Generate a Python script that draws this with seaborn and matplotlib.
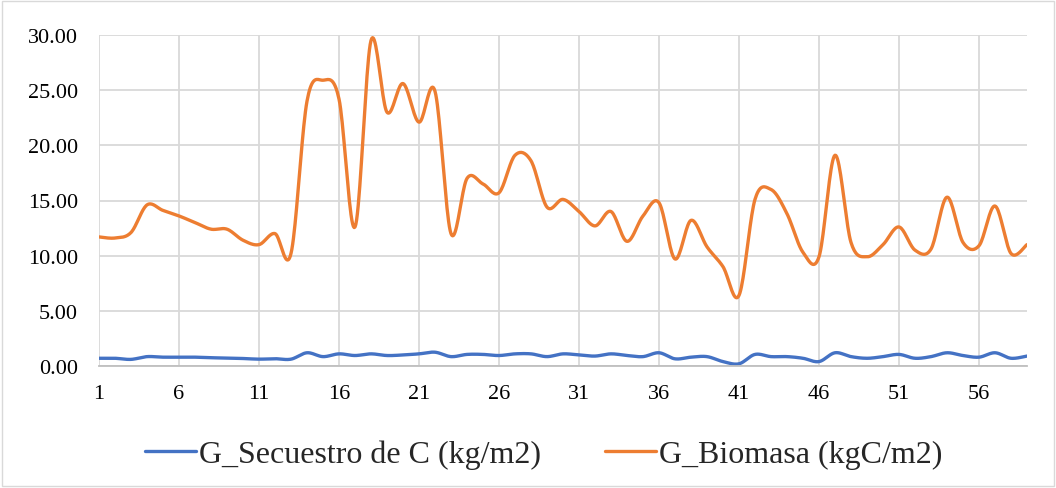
import numpy as np
import pandas as pd
import matplotlib
matplotlib.use("Agg")
import matplotlib.pyplot as plt
import seaborn as sns
from matplotlib.patches import Rectangle

# ---- data ----
periods = list(range(1, 60))
secuestro = [0.70, 0.70, 0.60, 0.85, 0.80, 0.80, 0.80, 0.75, 0.72, 0.68,
             0.62, 0.66, 0.62, 1.20, 0.85, 1.10, 0.95, 1.10, 0.95, 1.00,
             1.10, 1.25, 0.85, 1.05, 1.05, 0.95, 1.10, 1.10, 0.85, 1.10,
             1.00, 0.90, 1.10, 0.95, 0.85, 1.20, 0.65, 0.80, 0.85, 0.40,
             0.20, 1.05, 0.85, 0.85, 0.70, 0.40, 1.20, 0.85, 0.70, 0.85,
             1.05, 0.70, 0.85, 1.20, 0.95, 0.80, 1.20, 0.70, 0.90]
biomasa = [11.7, 11.6, 12.1, 14.6, 14.1, 13.6, 13.0, 12.4, 12.4, 11.4,
           11.0, 12.0, 10.2, 24.0, 25.9, 24.2, 12.6, 29.5, 23.0, 25.6,
           22.1, 24.9, 12.0, 17.0, 16.5, 15.7, 19.1, 18.6, 14.4, 15.1,
           14.0, 12.7, 14.0, 11.3, 13.6, 14.8, 9.7, 13.2, 10.8, 9.0,
           6.4, 15.1, 16.0, 13.8, 10.3, 9.9, 19.1, 11.2, 9.9, 11.0,
           12.6, 10.5, 10.6, 15.3, 11.2, 10.9, 14.5, 10.2, 11.0]
series_names = ["G_Secuestro de C (kg/m2)", "G_Biomasa (kgC/m2)"]
series_colors = ["#4472C4", "#ED7D31"]
x_ticks = list(range(1, 60, 5))
y_ticks = [0, 5, 10, 15, 20, 25, 30]


def smooth(x, y, n=20, k=1 / 6.0):
    """Bezier smoothing (visual only, like Excel's smoothed line)."""
    x = np.asarray(x, float)
    y = np.asarray(y, float)
    px = np.concatenate([[x[0]], x, [x[-1]]])
    py = np.concatenate([[y[0]], y, [y[-1]]])
    xs, ys = [], []
    t = np.linspace(0, 1, n, endpoint=False)
    for i in range(1, len(px) - 2):
        p0, p1, p2, p3 = py[i - 1], py[i], py[i + 1], py[i + 2]
        q0, q1, q2, q3 = px[i - 1], px[i], px[i + 1], px[i + 2]
        c1y = p1 + (p2 - p0) * k
        c2y = p2 - (p3 - p1) * k
        c1x = q1 + (q2 - q0) * k
        c2x = q2 - (q3 - q1) * k
        bx = (1 - t) ** 3 * q1 + 3 * (1 - t) ** 2 * t * c1x + 3 * (1 - t) * t ** 2 * c2x + t ** 3 * q2
        by = (1 - t) ** 3 * p1 + 3 * (1 - t) ** 2 * t * c1y + 3 * (1 - t) * t ** 2 * c2y + t ** 3 * p2
        xs.extend(bx)
        ys.extend(by)
    xs.append(x[-1])
    ys.append(y[-1])
    return np.array(xs), np.array(ys)


frames = []
for name, vals in zip(series_names, [secuestro, biomasa]):
    sx, sy = smooth(periods, vals)
    frames.append(pd.DataFrame({"x": sx, "y": sy, "serie": name}))
df = pd.concat(frames, ignore_index=True)

sns.set_theme(style="white")
plt.rcParams["font.family"] = ["Liberation Serif", "DejaVu Serif"]

fig = plt.figure(figsize=(10.56, 4.89), dpi=100)
ax = fig.add_axes([99 / 1056, 1 - 367 / 489, (1027 - 99) / 1056, (367 - 36) / 489])

sns.lineplot(data=df, x="x", y="y", hue="serie", palette=series_colors,
             hue_order=series_names, sort=False, estimator=None,
             linewidth=2.4, ax=ax, legend=True)

ax.set_xlim(1, 59)
ax.set_ylim(0, 30)
ax.set_xticks(x_ticks)
ax.set_xticklabels([str(v) for v in x_ticks])
ax.set_yticks(y_ticks)
ax.set_yticklabels([f"{v:.2f}" for v in y_ticks])
ax.grid(True, color="#d9d9d9", linewidth=1.3)
ax.set_axisbelow(True)
for s in ["top", "right", "left"]:
    ax.spines[s].set_visible(False)
ax.spines["bottom"].set_color("#bfbfbf")
ax.spines["bottom"].set_linewidth(1.3)
ax.tick_params(axis="both", labelsize=16, colors="black", length=0)
ax.tick_params(axis="x", pad=13)
ax.tick_params(axis="y", pad=15)
ax.set_xlabel("")
ax.set_ylabel("")

handles, labels = ax.get_legend_handles_labels()
ax.legend(handles, labels, loc="center", bbox_to_anchor=(0.515, 1 - 455 / 489),
          bbox_transform=fig.transFigure, ncol=2, frameon=False,
          fontsize=23, handlelength=1.6, columnspacing=2.0, handletextpad=0.1)

fig.patches.append(Rectangle((2 / 1056, 2 / 489), 1 - 4 / 1056, 1 - 4 / 489,
                             transform=fig.transFigure, fill=False,
                             edgecolor="#d9d9d9", linewidth=1.0))

fig.savefig("out.png", dpi=100)
